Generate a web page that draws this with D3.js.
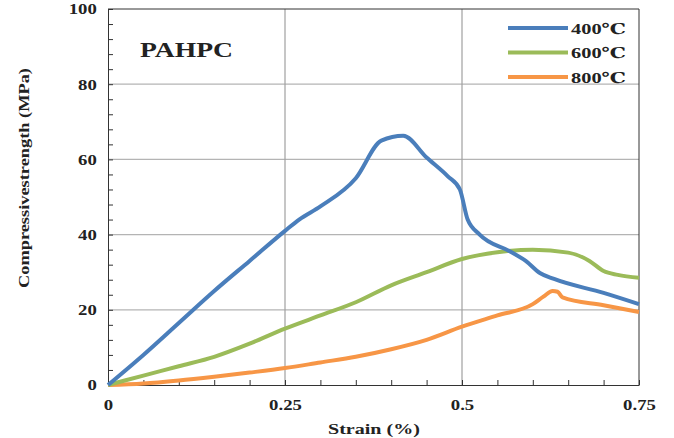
<!DOCTYPE html>
<html>
<head>
<meta charset="utf-8">
<script src="https://cdn.jsdelivr.net/npm/d3@7"></script>
<style>
  body { margin: 0; background: #fff; }
  text { font-family: "Liberation Serif", "DejaVu Serif", serif; font-weight: bold; fill: #222; }
</style>
</head>
<body>
<div id="chart-area"></div>
<script>
// Data
var series = ["400℃", "600℃", "800℃"];
var colors = ["#4a7ebb", "#9bbb59", "#f79646"];

var strain400 = [0, 0.05, 0.1, 0.15, 0.2, 0.25, 0.27, 0.3, 0.35, 0.386, 0.417, 0.45, 0.48, 0.497, 0.508, 0.525, 0.568, 0.59, 0.61, 0.63, 0.7, 0.75];
var stress400 = [0, 8, 16.5, 25, 33, 41, 44, 47.5, 55, 65, 66.3, 60.5, 55.5, 52, 44, 40, 35.5, 33, 29.8, 28.2, 24.5, 21.5];

var strain600 = [0, 0.05, 0.1, 0.15, 0.2, 0.25, 0.3, 0.35, 0.4, 0.45, 0.5, 0.55, 0.6, 0.65, 0.68, 0.7, 0.72, 0.75];
var stress600 = [0, 2.5, 5, 7.5, 11, 15, 18.5, 22, 26.5, 30, 33.5, 35.3, 36, 35.2, 33, 30.3, 29.3, 28.5];

var strain800 = [0, 0.05, 0.1, 0.15, 0.2, 0.25, 0.3, 0.35, 0.4, 0.45, 0.5, 0.55, 0.6, 0.615, 0.628, 0.635, 0.642, 0.7, 0.75];
var stress800 = [0, 0.4, 1.2, 2.2, 3.3, 4.5, 6, 7.5, 9.5, 12, 15.5, 18.5, 21.5, 23.5, 25, 24.8, 23.3, 21.2, 19.4];

var xTicks = [0, 0.25, 0.5, 0.75];
var yTicks = [0, 20, 40, 60, 80, 100];

var margin = { left: 108, right: 35, top: 9, bottom: 53 };
var width = 674 - margin.left - margin.right,
    height = 438 - margin.top - margin.bottom;

var svg = d3.select("#chart-area")
    .append("svg")
        .attr("width", 674)
        .attr("height", 438);
var g = svg.append("g")
        .attr("transform", "translate(" + margin.left + "," + margin.top + ")");

// Scales
var x = d3.scaleLinear().domain([0, 0.75]).range([0, width]);
var y = d3.scaleLinear().domain([0, 100]).range([height, 0]);

// Gridlines
g.selectAll(".hgrid").data([20, 40, 60, 80]).enter().append("line")
    .attr("x1", 0).attr("x2", width)
    .attr("y1", function(d){ return y(d); })
    .attr("y2", function(d){ return y(d); })
    .attr("stroke", "#b4b4b4").attr("stroke-width", 1.2);
g.selectAll(".vgrid").data([0.25, 0.5]).enter().append("line")
    .attr("y1", 0).attr("y2", height)
    .attr("x1", function(d){ return x(d); })
    .attr("x2", function(d){ return x(d); })
    .attr("stroke", "#a0a0a0").attr("stroke-width", 1.2);

// Axes (ticks point inward)
var xAxisCall = d3.axisBottom(x)
    .tickValues(d3.range(0, 0.7501, 0.05))
    .tickSizeInner(-5).tickSizeOuter(0)
    .tickFormat(function(d){
        var r = Math.round(d * 100) / 100;
        return xTicks.indexOf(r) >= 0 ? d3.format("")(r) : "";
    });
var xAx = g.append("g")
    .attr("class", "x axis")
    .attr("transform", "translate(0," + height + ")")
    .call(xAxisCall);
xAx.selectAll("text")
    .attr("y", 14)
    .attr("font-size", "15px")
    .attr("transform", "scale(1.25,1)");

var yAxisCall = d3.axisLeft(y)
    .tickValues(d3.range(0, 100.1, 4))
    .tickSizeInner(-5).tickSizeOuter(0)
    .tickFormat(function(d){ return yTicks.indexOf(d) >= 0 ? d : ""; });
var yAx = g.append("g")
    .attr("class", "y axis")
    .call(yAxisCall);
yAx.selectAll("text")
    .attr("x", -9)
    .attr("font-size", "15px")
    .attr("transform", "scale(1.25,1)");

g.selectAll(".axis path, .axis line").attr("stroke", "#333");
g.selectAll(".axis text").attr("fill", "#222").style("font-family", "'Liberation Serif', serif");

// Frame on top and right
g.append("line").attr("x1", 0).attr("x2", width).attr("y1", 0).attr("y2", 0).attr("stroke", "#333");
g.append("line").attr("x1", width).attr("x2", width).attr("y1", 0).attr("y2", height).attr("stroke", "#333");

// Curves
var line = d3.line()
    .x(function(d){ return x(d[0]); })
    .y(function(d){ return y(d[1]); })
    .curve(d3.curveMonotoneX);

var curves = [
    d3.zip(strain400, stress400),
    d3.zip(strain600, stress600),
    d3.zip(strain800, stress800)
];
// draw 800 first so 400 lies on top
[2, 1, 0].forEach(function(i){
    g.append("path")
        .datum(curves[i])
        .attr("fill", "none")
        .attr("stroke", colors[i])
        .attr("stroke-width", 4)
        .attr("stroke-linejoin", "round")
        .attr("d", line);
});

// Legend
var legend = svg.append("g").attr("transform", "translate(508,28)");
series.forEach(function(s, i){
    var row = legend.append("g").attr("transform", "translate(0," + (i * 24.5) + ")");
    row.append("line")
        .attr("x1", 0).attr("x2", 60)
        .attr("stroke", colors[i]).attr("stroke-width", 4);
    row.append("text")
        .attr("x", 63).attr("y", 5.5)
        .attr("font-size", "15px")
        .attr("textLength", 55)
        .attr("lengthAdjust", "spacingAndGlyphs")
        .text(s);
});

// Title inside plot
svg.append("text")
    .attr("x", 140).attr("y", 57)
    .attr("font-size", "21px")
    .attr("textLength", 93)
    .attr("lengthAdjust", "spacingAndGlyphs")
    .text("PAHPC");

// Axis labels
svg.append("text")
    .attr("transform", "translate(29,178) rotate(-90)")
    .attr("text-anchor", "middle")
    .attr("font-size", "15px")
    .attr("textLength", 220)
    .attr("lengthAdjust", "spacingAndGlyphs")
    .text("Compressivestrength (MPa)");

svg.append("text")
    .attr("x", 374).attr("y", 434)
    .attr("text-anchor", "middle")
    .attr("font-size", "15px")
    .attr("textLength", 92)
    .attr("lengthAdjust", "spacingAndGlyphs")
    .text("Strain (%)");
</script>
</body>
</html>
